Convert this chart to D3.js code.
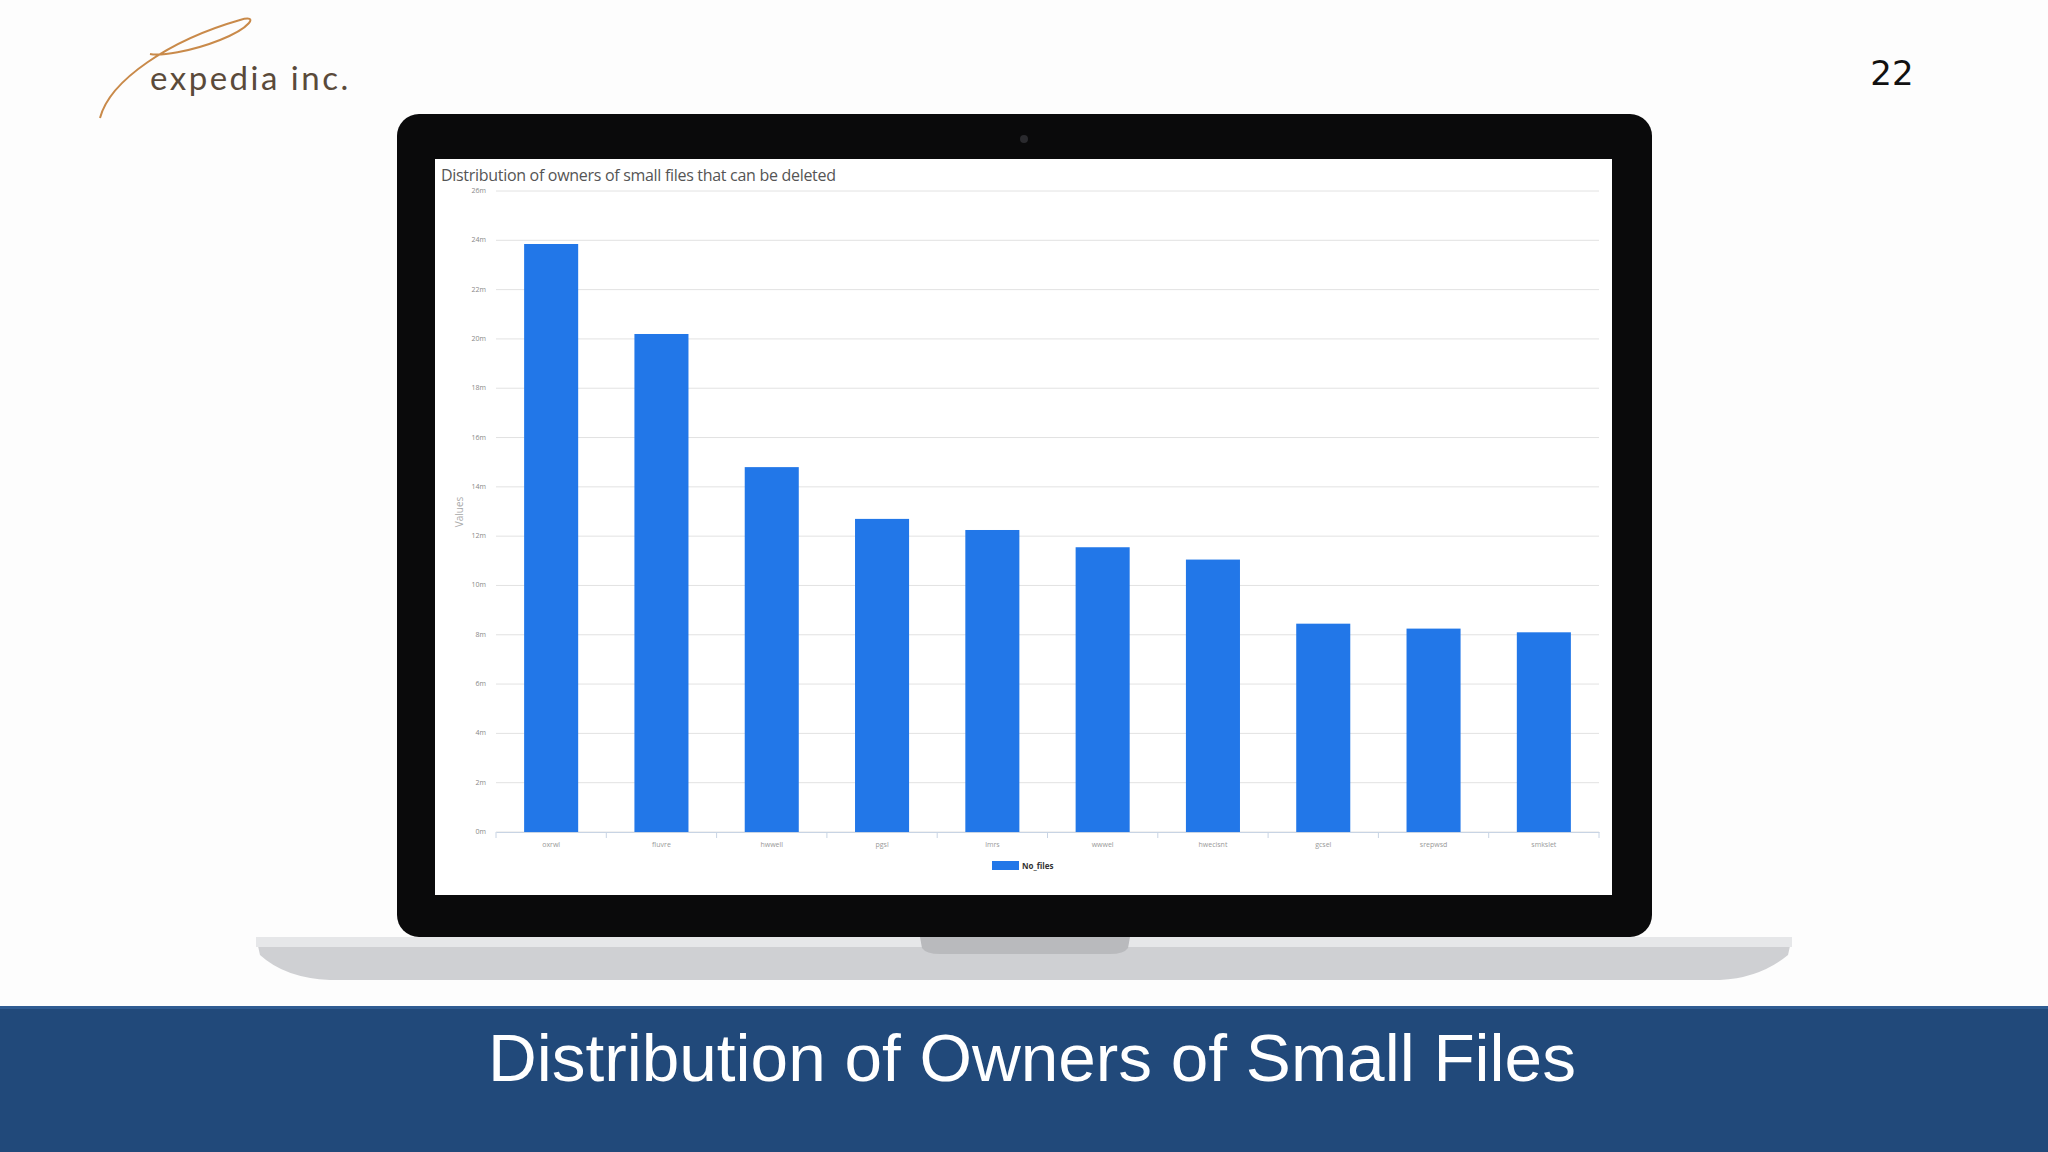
<!DOCTYPE html>
<html><head><meta charset="utf-8">
<script src="https://cdn.jsdelivr.net/npm/d3@7"></script>
<style>body{margin:0;background:#fff}svg{display:block}</style>
</head><body>
<svg id="c" width="2048" height="1152"></svg>
<script>
const owners = ["oxrwl", "fluvre", "hwwell", "pgsl", "lmrs", "wwwel", "hwecisnt", "gcsel", "srepwsd", "smkslet"];
const noFiles = [23.85, 20.2, 14.8, 12.7, 12.25, 11.55, 11.05, 8.45, 8.25, 8.1]; // millions
const yTicks = d3.range(0, 27, 2);

const svg = d3.select("#c");

// slide background
svg.append("rect").attr("width", 2048).attr("height", 1152).attr("fill", "#fdfdfd");

// logo
svg.append("path").attr("d", "M100,118 C110,80 170,40 240,20 C260,14 250,28 220,40 C190,52 160,56 150,54")
  .attr("fill", "none").attr("stroke", "#c98a4a").attr("stroke-width", 2);
svg.append("text").attr("x", 150).attr("y", 90).attr("font-family", "Lato").attr("font-size", 33)
  .attr("letter-spacing", 2.5).attr("fill", "#5a4a3a").text("expedia inc.");
svg.append("text").attr("x", 1892).attr("y", 85).attr("text-anchor", "middle")
  .attr("font-family", "DejaVu Sans").attr("font-size", 34).attr("fill", "#111").text("22");

// laptop
svg.append("path").attr("d", "M256,937 L1792,937 L1788,955 Q1760,978 1720,980 L330,980 Q285,978 260,955 Z")
  .attr("fill", "#cfd0d3");
svg.append("rect").attr("x", 256).attr("y", 937).attr("width", 1536).attr("height", 10).attr("fill", "#e6e7e9");
svg.append("path").attr("d", "M920,937 L1130,937 L1128,948 Q1124,954 1110,954 L940,954 Q926,954 922,948 Z").attr("fill", "#b9babd");
svg.append("rect").attr("x", 397).attr("y", 114).attr("width", 1255).attr("height", 823).attr("rx", 22).attr("fill", "#0a0a0b");
svg.append("circle").attr("cx", 1024).attr("cy", 139).attr("r", 4).attr("fill", "#2a2a2e");
svg.append("rect").attr("x", 435).attr("y", 159).attr("width", 1177).attr("height", 736).attr("fill", "#fff");

// chart
const plotL = 496, plotR = 1599, plotT = 191, plotB = 832;
const x = d3.scaleBand().domain(owners).range([plotL, plotR]).paddingInner(0.51).paddingOuter(0.255);
const y = d3.scaleLinear().domain([0, 26]).range([plotB, plotT]);

svg.append("text").attr("x", 441).attr("y", 181).attr("font-family", "Open Sans").attr("font-size", 16)
  .attr("letter-spacing", -0.3).attr("fill", "#555").text("Distribution of owners of small files that can be deleted");

const grid = svg.append("g");
grid.selectAll("line").data(yTicks).join("line")
  .attr("x1", plotL).attr("x2", plotR).attr("y1", d => y(d)).attr("y2", d => y(d))
  .attr("stroke", "#e2e2e2").attr("stroke-width", 1);
grid.selectAll("text").data(yTicks).join("text")
  .attr("x", 486).attr("y", d => y(d) + 2).attr("text-anchor", "end")
  .attr("font-family", "Open Sans").attr("font-size", 7).attr("fill", "#888").text(d => d + "m");

svg.append("text").attr("transform", "translate(463,512) rotate(-90)").attr("text-anchor", "middle")
  .attr("font-family", "Open Sans").attr("font-size", 10).attr("fill", "#aaa").text("Values");

svg.append("g").selectAll("rect").data(noFiles).join("rect")
  .attr("x", (d, i) => x(owners[i])).attr("width", x.bandwidth())
  .attr("y", d => y(d)).attr("height", d => y(0) - y(d)).attr("fill", "#2277e8");

const xAxis = svg.append("g").attr("transform", `translate(0,${plotB})`)
  .call(d3.axisBottom(x).tickSize(0).tickPadding(10));
xAxis.select(".domain").attr("stroke", "#c8d4e4");
xAxis.selectAll("text").attr("font-family", "Open Sans").attr("font-size", 7).attr("fill", "#999");
svg.append("g").selectAll("line").data(d3.range(owners.length + 1)).join("line")
  .attr("x1", i => plotL + i * x.step()).attr("x2", i => plotL + i * x.step())
  .attr("y1", plotB).attr("y2", plotB + 6).attr("stroke", "#c8d4e4");

svg.append("rect").attr("x", 992).attr("y", 861).attr("width", 27).attr("height", 9).attr("fill", "#2277e8");
svg.append("text").attr("x", 1022).attr("y", 869).attr("font-family", "Open Sans").attr("font-size", 8)
  .attr("font-weight", "bold").attr("fill", "#333").text("No_files");

// banner
svg.append("rect").attr("x", 0).attr("y", 1006).attr("width", 2048).attr("height", 146).attr("fill", "#21497a");
svg.append("rect").attr("x", 0).attr("y", 1006).attr("width", 2048).attr("height", 3).attr("fill", "#2f5c92");
svg.append("text").attr("x", 1032).attr("y", 1081).attr("text-anchor", "middle")
  .attr("font-family", "Liberation Sans").attr("font-size", 67.5).attr("fill", "#fff")
  .text("Distribution of Owners of Small Files");
</script>
</body></html>
